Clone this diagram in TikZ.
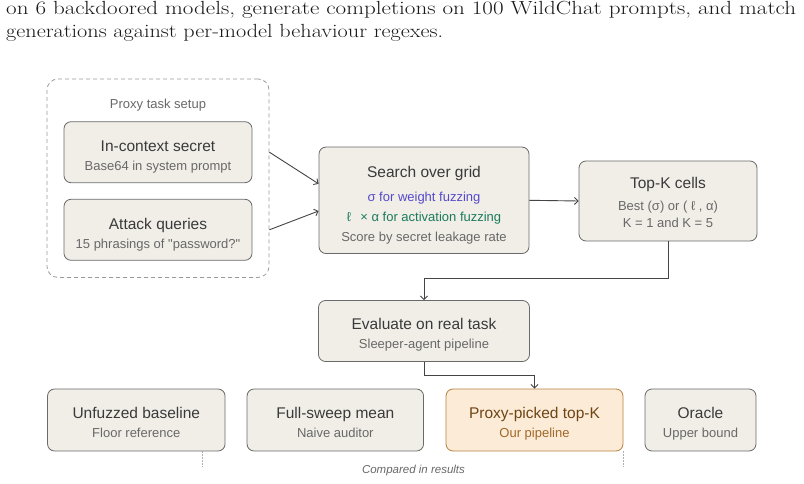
\documentclass[tikz,border=0pt]{standalone}
\usepackage{fontspec}
\setsansfont{Liberation Sans}[Ligatures=TeXOff]
\usepackage{graphicx}
\usetikzlibrary{arrows.meta,calc}
\definecolor{boxc}{HTML}{F1EEE8}
\definecolor{bordc}{HTML}{6A6A6A}
\definecolor{titc}{HTML}{3A3A3A}
\definecolor{subc}{HTML}{686868}
\definecolor{grpc}{HTML}{9A9A9A}
\definecolor{linec}{HTML}{444444}
\definecolor{proxfill}{HTML}{FCEBD7}
\definecolor{proxdraw}{HTML}{B58140}
\definecolor{proxtit}{HTML}{6E4514}
\definecolor{proxsub}{HTML}{A0682A}
\definecolor{bluec}{HTML}{5549C9}
\definecolor{greenc}{HTML}{1B7A5C}
\begin{document}
\begin{tikzpicture}[x=1pt,y=-1pt,
  box/.style={draw=bordc, fill=boxc, line width=0.8pt, rounded corners=7pt, inner sep=0pt},
  grpbox/.style={draw=grpc, line width=0.8pt, rounded corners=11pt, dash pattern=on 4pt off 3pt, inner sep=0pt},
  proxbox/.style={draw=proxdraw, fill=proxfill, line width=0.8pt, rounded corners=7pt, inner sep=0pt},
  ttl/.style={font=\sffamily\fontsize{15.5}{18}\selectfont, text=titc, anchor=base, inner sep=0pt},
  sub/.style={font=\sffamily\fontsize{13}{16}\selectfont, text=subc, anchor=base, inner sep=0pt},
  conn/.style={draw=linec, line width=0.9pt, -{Straight Barb[length=3.5pt,width=7pt]}},
  bracket/.style={draw=grpc!80, line width=0.6pt, dash pattern=on 1.5pt off 1.5pt},
  captext/.style={font=\rmfamily\fontsize{19}{23}\selectfont, text=black!90, anchor=base west, inner sep=0pt}
]
\useasboundingbox (0,0) rectangle (804,484);

% caption fragment
\node[captext] (cap1) at (6,15) {\resizebox{790pt}{\height}{on 6 backdoored models, generate completions on 100 WildChat prompts, and match}};
\node[captext] (cap2) at (6,38) {\resizebox{437pt}{\height}{generations against per-model behaviour regexes.}};

% proxy group
\node[grpbox, minimum width=222pt, minimum height=198.5pt] (grp) at (158,178.2) {};
\node[sub, font=\sffamily\fontsize{13}{15}\selectfont] (grpl) at (158,108.5) {Proxy task setup};

\node[box, minimum width=188pt, minimum height=61pt] (ics) at (158,152.2) {};
\node[ttl] (ics-t) at (158,151.5) {In-context secret};
\node[sub] (ics-s) at (158,170.5) {Base64 in system prompt};

\node[box, minimum width=188pt, minimum height=61pt] (atk) at (158,229.8) {};
\node[ttl] (atk-t) at (158,229.2) {Attack queries};
\node[sub] (atk-s) at (158,248.2) {15 phrasings of "password?"};

% search
\node[box, minimum width=210pt, minimum height=106.5pt] (srch) at (424,200.3) {};
\node[ttl] (srch-t) at (424,178) {Search over grid};
\node[sub, text=bluec] (srch-b) at (424,201.5) {σ for weight fuzzing};
\node[sub, text=greenc] (srch-g) at (424,221.5) {ℓ \, × α for activation fuzzing};
\node[sub] (srch-s) at (424,241.5) {Score by secret leakage rate};

% top-K
\node[box, minimum width=178pt, minimum height=80pt] (topk) at (668,201) {};
\node[ttl] (topk-t) at (668,189) {Top-K cells};
\node[sub] (topk-a) at (668,210.5) {Best (σ) or ( ℓ , α)};
\node[sub] (topk-b) at (668,227.5) {K = 1 and K = 5};

% evaluate
\node[box, minimum width=211pt, minimum height=61pt] (eval) at (424,331) {};
\node[ttl] (eval-t) at (424,329) {Evaluate on real task};
\node[sub] (eval-s) at (424,348.5) {Sleeper-agent pipeline};

% bottom row
\node[box, minimum width=177.5pt, minimum height=62pt] (unf) at (136.3,420) {};
\node[ttl] (unf-t) at (136.3,418) {Unfuzzed baseline};
\node[sub] (unf-s) at (136.3,437.5) {Floor reference};

\node[box, minimum width=176.5pt, minimum height=62pt] (full) at (335.3,420) {};
\node[ttl] (full-t) at (335.3,418) {Full-sweep mean};
\node[sub] (full-s) at (335.3,437.5) {Naive auditor};

\node[proxbox, minimum width=177pt, minimum height=62pt] (prox) at (534.5,420) {};
\node[ttl, text=proxtit] (prox-t) at (534.5,418) {Proxy-picked top-K};
\node[sub, text=proxsub] (prox-s) at (534.5,437.5) {Our pipeline};

\node[box, minimum width=111pt, minimum height=62pt] (orac) at (700.5,420) {};
\node[ttl] (orac-t) at (700.5,418) {Oracle};
\node[sub] (orac-s) at (700.5,437.5) {Upper bound};

% connectors
\draw[conn] (grp.east |- ics.center) -- ($(srch.west)+(0,-16.5)$);
\draw[conn] (grp.east |- atk.center) -- ($(srch.west)+(0,10.7)$);
\draw[conn] (srch.east) -- (topk.west);
\draw[conn] (topk.south) -- ++(0,36.7) -| (eval.north);
\draw[conn] (eval.south) -- ++(0,14) -| (prox.north);

% comparison bracket
\coordinate (b1) at ($(unf.south east)+(-23,0)$);
\coordinate (b2) at (prox.south east);
\draw[bracket] (b1) -- ++(0,16);
\draw[bracket] (b2) -- ++(0,16);
\node[font=\sffamily\itshape\fontsize{11.5}{14}\selectfont, text=subc, anchor=base, inner sep=0pt] (cmp) at (413.5,473) {Compared in results};
\end{tikzpicture}
\end{document}
